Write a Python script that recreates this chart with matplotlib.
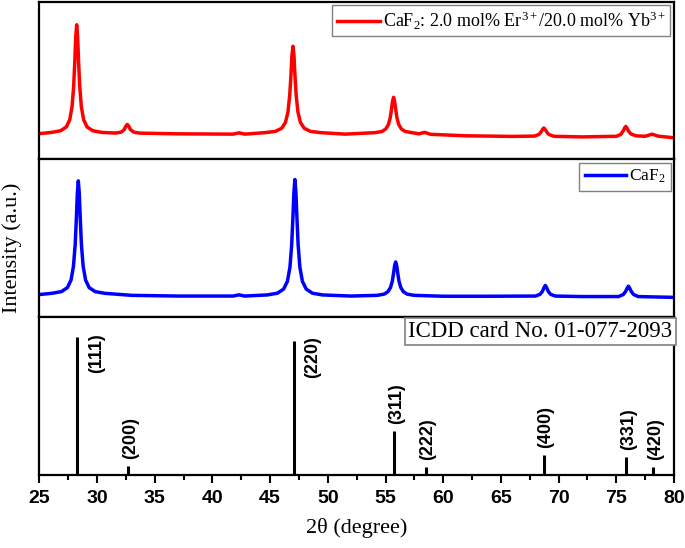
import matplotlib
matplotlib.use('agg')
import matplotlib.pyplot as plt

plt.rcParams['mathtext.fontset'] = 'custom'
plt.rcParams['mathtext.rm'] = 'Liberation Serif'
plt.rcParams['mathtext.it'] = 'Liberation Serif:italic'
plt.rcParams['mathtext.bf'] = 'Liberation Serif:bold'

# Er/Yb doped sample (red)
red_x = [25.0,
         26.04, 26.84, 27.34, 27.64, 27.84, 27.98, 28.08, 28.16, 28.24, 28.32, 28.40, 28.50, 28.64, 28.84, 29.14, 29.64, 30.44,
         31.6, 32.1, 32.35, 32.5, 32.62, 32.75, 32.9, 33.2, 33.7,
         37.0, 41.8, 42.3, 42.8,
         44.58, 45.46, 46.0, 46.33, 46.55, 46.70, 46.81, 46.89, 46.98, 47.07, 47.15, 47.26, 47.41, 47.63, 47.96, 48.5, 49.38,
         51.5,
         54.1, 54.7, 55.02, 55.25, 55.41, 55.52, 55.61, 55.70, 55.79, 55.88, 55.99, 56.15, 56.38, 56.7, 57.3,
         57.9, 58.4, 58.9, 62.0, 66.0,
         67.9, 68.3, 68.5, 68.62, 68.72, 68.82, 68.95, 69.15, 69.6, 72.0,
         75.0, 75.4, 75.6, 75.72, 75.82, 75.92, 76.05, 76.25, 76.7, 77.5, 78.1, 78.6, 80.0]
red_y = [26,
         27.2, 28.9, 32.7, 40.1, 53.4, 74.3, 100.1, 124.1, 136, 124.1, 100.1, 74.3, 53.4, 40.1, 32.7, 28.9, 27.2,
         26.6, 27.5, 30, 33.5, 35.3, 33.5, 30, 27.5, 26.5,
         25.8, 25.5, 26.8, 25.5,
         27, 28.3, 31.4, 37.3, 48, 64.8, 85.5, 104.8, 114.3, 104.8, 85.5, 64.8, 48, 37.3, 31.4, 28.3, 27,
         25.5,
         27, 28.2, 30.7, 35.1, 42.1, 50.7, 58.7, 62.7, 58.7, 50.7, 42.1, 35.1, 30.7, 28.2, 27,
         25.8, 27.3, 25.3, 23.8, 23.2,
         23.5, 25.2, 28, 30.5, 31.7, 30.5, 28, 25.2, 23.3, 22.7,
         23.3, 25.3, 28.8, 31.8, 33.3, 31.8, 28.8, 25.8, 23.8, 23.3, 25.5, 23.5, 21.8]

# undoped CaF2 (blue)
blue_x = [25.0,
          26.08, 26.92, 27.44, 27.75, 27.96, 28.11, 28.213, 28.297, 28.38, 28.463, 28.547, 28.65, 28.80, 29.01, 29.32, 29.84, 30.68,
          33.0, 37.0, 41.8, 42.3, 42.8,
          44.75, 45.63, 46.17, 46.5, 46.72, 46.87, 46.976, 47.063, 47.15, 47.237, 47.324, 47.43, 47.58, 47.8, 48.13, 48.67, 49.55,
          52.0,
          54.28, 54.88, 55.2, 55.43, 55.59, 55.70, 55.79, 55.88, 55.97, 56.06, 56.17, 56.33, 56.56, 56.88, 57.48,
          60.0, 64.0,
          68.0, 68.4, 68.6, 68.75, 68.85, 68.95, 69.1, 69.3, 69.7, 72.0,
          75.2, 75.6, 75.8, 75.95, 76.05, 76.15, 76.3, 76.5, 76.9, 78.0, 80.0]
blue_y = [22.3,
          23.5, 25.2, 29.2, 36.7, 50.4, 71.8, 98.3, 122.8, 135, 122.8, 98.3, 71.8, 50.4, 36.7, 29.2, 25.2, 23.5,
          21.5, 20.8, 20.8, 22, 20.8,
          21.9, 23.6, 27.7, 35.4, 49.4, 71.4, 98.6, 123.8, 136.3, 123.8, 98.6, 71.4, 49.4, 35.4, 27.7, 23.6, 21.9,
          20.8,
          21.5, 22.7, 25, 29.1, 35.5, 43.5, 50.9, 54.6, 50.9, 43.5, 35.5, 29.1, 25, 22.7, 21.5,
          20.6, 20.6,
          20.8, 22.6, 25.5, 29.5, 31.3, 29.5, 25.5, 22.6, 20.8, 20.3,
          20.3, 22.3, 25.3, 28.8, 30.6, 28.8, 25.3, 22.3, 20.3, 20, 19.5]

# ICDD 01-077-2093 reference lines
icdd_pos = [28.24, 32.72, 47.03, 55.76, 58.5, 68.7, 75.85, 78.2]
icdd_int = [100, 6.3, 97.5, 32, 5.8, 14.6, 13.1, 5.8]
icdd_hkl = ['(111)', '(200)', '(220)', '(311)', '(222)', '(400)', '(331)', '(420)']

serif = 'Liberation Serif'
sans = 'Liberation Sans'

fig, axes = plt.subplots(3, 1, figsize=(6.85, 5.48), dpi=100, sharex=True,
                         gridspec_kw=dict(hspace=0))
fig.subplots_adjust(left=39.3/685, right=674/685, top=1-1.7/548, bottom=1-474.7/548)

ax1, ax2, ax3 = axes

ax1.plot(red_x, red_y, color='#ff0000', lw=2.5,
         label='CaF$_2$: 2.0 mol% Er$^{3+}$/20.0 mol% Yb$^{3+}$')
ax1.set_ylim(0, 159.3)

ax2.plot(blue_x, blue_y, color='#0000ff', lw=2.5, label='CaF$_2$')
ax2.set_ylim(0, 156.3)

ax3.vlines(icdd_pos, 0, icdd_int, color='black', lw=2.2)
ax3.set_ylim(0, 114.6)

for x, h, lab in zip(icdd_pos, icdd_int, icdd_hkl):
    if h > 50:
        ax3.annotate(lab, (x, h), xytext=(14, 3), textcoords='offset points',
                     rotation=90, ha='center', va='top', fontsize=13,
                     fontweight='bold', family=sans)
    else:
        ax3.annotate(lab, (x, h), xytext=(1.5, 5), textcoords='offset points',
                     rotation=90, ha='center', va='bottom', fontsize=13,
                     fontweight='bold', family=sans)

ax3.text(0.997, 0.975, 'ICDD card No. 01-077-2093', transform=ax3.transAxes,
         ha='right', va='top', fontsize=16.5, family=serif,
         bbox=dict(boxstyle='square,pad=0.15', fc='white', ec='gray', lw=1.2))

ax1.legend(loc='upper right', fancybox=False, edgecolor='gray', framealpha=1,
           handlelength=2.4, borderaxespad=0.2, borderpad=0.25, handletextpad=0.15,
           prop=dict(family=serif, size=13))
ax2.legend(loc='upper right', fancybox=False, edgecolor='gray', framealpha=1,
           handlelength=2.4, borderaxespad=0.2, borderpad=0.3, handletextpad=0.15,
           prop=dict(family=serif, size=12.5))

for ax in axes:
    ax.set_xlim(25, 80)
    ax.set_yticks([])
    for s in ax.spines.values():
        s.set_linewidth(1.6)
    ax.tick_params(axis='x', which='both', bottom=False, labelbottom=False)

ax3.set_xticks(range(25, 81, 5))
ax3.set_xticks([x + 2.5 for x in range(25, 80, 5)], minor=True)
ax3.tick_params(axis='x', which='both', bottom=True, labelbottom=True, direction='out',
                width=1.5)
ax3.tick_params(axis='x', which='major', length=6, labelsize=14, pad=5)
ax3.tick_params(axis='x', which='minor', length=3.5)
for t in ax3.get_xticklabels():
    t.set_fontweight('bold')
    t.set_family(sans)

ax3.set_xlabel('2θ (degree)', family=serif, fontsize=16, labelpad=8)
fig.text(12/685, 1-248/548, 'Intensity (a.u.)', rotation=90, ha='center', va='center',
         family=serif, fontsize=16)

plt.savefig('out.png')
